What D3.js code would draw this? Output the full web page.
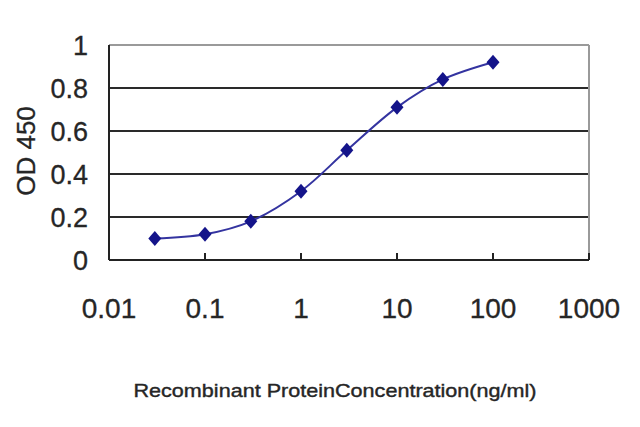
<!DOCTYPE html>
<html>
<head>
<meta charset="utf-8">
<script src="https://cdn.jsdelivr.net/npm/d3@7"></script>
<style>
  html, body { margin: 0; padding: 0; background: #fff; }
  svg { display: block; }
</style>
</head>
<body>
<svg id="chart" width="640" height="427"></svg>
<script>
// Data
const concentrations = [0.03, 0.1, 0.3, 1, 3, 10, 30, 100];
const odValues = [0.1, 0.12, 0.18, 0.32, 0.51, 0.71, 0.84, 0.92];
const xTickValues = [0.01, 0.1, 1, 10, 100, 1000];
const xTickLabels = ["0.01", "0.1", "1", "10", "100", "1000"];
const yTickValues = [0, 0.2, 0.4, 0.6, 0.8, 1];
const yTickLabels = ["0", "0.2", "0.4", "0.6", "0.8", "1"];
const xTitle = "Recombinant ProteinConcentration(ng/ml)";
const yTitle = "OD 450";

(function () {
const svg = d3.select("#chart");
const pLeft = 109, pRight = 589, pTop = 45, pBottom = 260;

const x = d3.scaleLog().domain([0.01, 1000]).range([pLeft, pRight]);
const y = d3.scaleLinear().domain([0, 1]).range([pBottom, pTop]);

const font = "'Liberation Sans', Arial, sans-serif";
const textColor = "#262626";

// Gridlines
svg.append("g").selectAll("line")
  .data(yTickValues.filter(v => v > 0 && v < 1))
  .join("line")
  .attr("x1", pLeft).attr("x2", pRight)
  .attr("y1", d => y(d)).attr("y2", d => y(d))
  .attr("stroke", "#2a2a2a").attr("stroke-width", 2.2);

// Top and right border (light gray)
svg.append("line").attr("x1", pLeft).attr("x2", pRight).attr("y1", y(1)).attr("y2", y(1))
  .attr("stroke", "#9a9a9a").attr("stroke-width", 2);
svg.append("line").attr("x1", pRight).attr("x2", pRight).attr("y1", y(1)).attr("y2", y(0))
  .attr("stroke", "#9a9a9a").attr("stroke-width", 2);

// Axis lines
svg.append("line").attr("x1", pLeft).attr("x2", pLeft).attr("y1", y(1)).attr("y2", y(0))
  .attr("stroke", "#222").attr("stroke-width", 2);
svg.append("line").attr("x1", pLeft).attr("x2", pRight).attr("y1", y(0)).attr("y2", y(0))
  .attr("stroke", "#222").attr("stroke-width", 2.2);

// X ticks (pointing inward)
svg.append("g").selectAll("line")
  .data(xTickValues.slice(1))
  .join("line")
  .attr("x1", d => x(d)).attr("x2", d => x(d))
  .attr("y1", y(0)).attr("y2", y(0) - 7)
  .attr("stroke", "#222").attr("stroke-width", 2);

// X tick labels
svg.append("g").selectAll("text")
  .data(xTickValues)
  .join("text")
  .attr("x", d => x(d)).attr("y", 318)
  .attr("text-anchor", "middle")
  .attr("font-family", font).attr("font-size", 28)
  .attr("fill", textColor).attr("stroke", textColor).attr("stroke-width", 0.3)
  .text((d, i) => xTickLabels[i]);

// Y tick labels
svg.append("g").selectAll("text")
  .data(yTickValues)
  .join("text")
  .attr("x", 88).attr("y", d => y(d))
  .attr("dy", "0.36em")
  .attr("text-anchor", "end")
  .attr("font-family", font).attr("font-size", 27)
  .attr("fill", textColor).attr("stroke", textColor).attr("stroke-width", 0.3)
  .text((d, i) => yTickLabels[i]);

// Y title
svg.append("text")
  .attr("transform", "translate(35,151) rotate(-90)")
  .attr("text-anchor", "middle")
  .attr("font-family", font).attr("font-size", 26)
  .attr("fill", textColor).attr("stroke", textColor).attr("stroke-width", 0.3)
  .text(yTitle);

// X title
svg.append("text")
  .attr("x", 335).attr("y", 397)
  .attr("text-anchor", "middle")
  .attr("font-family", font).attr("font-size", 19)
  .attr("textLength", 403).attr("lengthAdjust", "spacingAndGlyphs")
  .attr("fill", textColor).attr("stroke", textColor).attr("stroke-width", 0.4)
  .text(xTitle);

// Data line
const pts = concentrations.map((c, i) => [c, odValues[i]]);
const line = d3.line().x(d => x(d[0])).y(d => y(d[1])).curve(d3.curveCatmullRom.alpha(0.5));
svg.append("path")
  .datum(pts)
  .attr("d", line)
  .attr("fill", "none")
  .attr("stroke", "#3434a0").attr("stroke-width", 2);

// Diamond markers
svg.append("g").selectAll("path")
  .data(pts)
  .join("path")
  .attr("transform", d => `translate(${x(d[0])},${y(d[1])})`)
  .attr("d", "M0,-7.5L6.5,0L0,7.5L-6.5,0Z")
  .attr("fill", "#14148a");
})();
</script>
</body>
</html>
